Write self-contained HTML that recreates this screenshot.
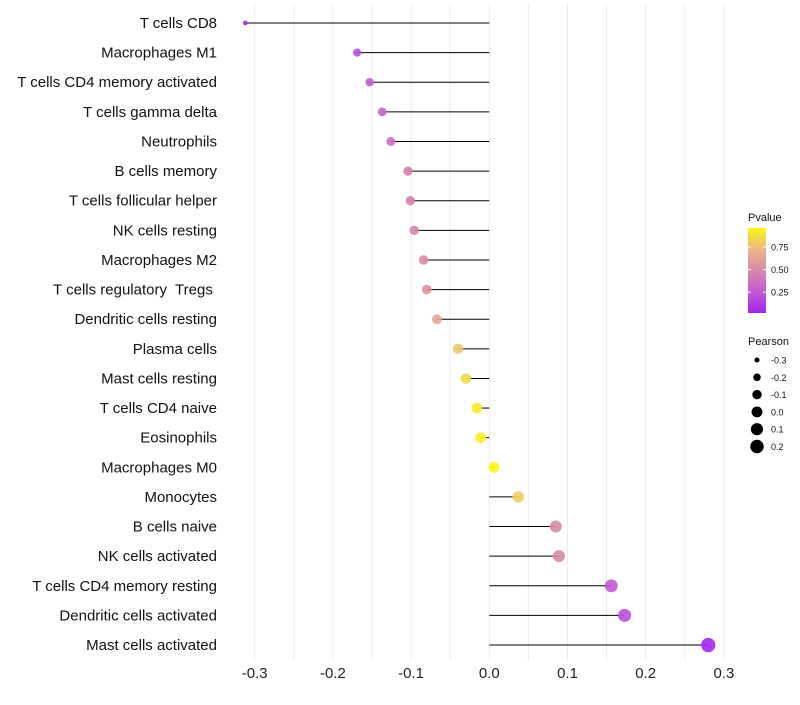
<!DOCTYPE html>
<html><head><meta charset="utf-8"><style>
body{margin:0;background:#fff;font-family:"Liberation Sans",sans-serif}
svg text{font-family:"Liberation Sans",sans-serif;white-space:pre}
</style></head><body>
<svg id="chart" width="800" height="700"></svg>
<script>
const categories=["T cells CD8","Macrophages M1","T cells CD4 memory activated","T cells gamma delta","Neutrophils","B cells memory","T cells follicular helper","NK cells resting","Macrophages M2","T cells regulatory  Tregs ","Dendritic cells resting","Plasma cells","Mast cells resting","T cells CD4 naive","Eosinophils","Macrophages M0","Monocytes","B cells naive","NK cells activated","T cells CD4 memory resting","Dendritic cells activated","Mast cells activated"];
const pearson=[-0.312,-0.169,-0.153,-0.137,-0.126,-0.104,-0.101,-0.096,-0.084,-0.080,-0.067,-0.040,-0.030,-0.016,-0.011,0.006,0.037,0.085,0.089,0.156,0.173,0.280];
const pvalue=[0.02,0.2,0.25,0.3,0.35,0.45,0.45,0.48,0.52,0.55,0.65,0.8,0.85,0.92,0.94,0.97,0.82,0.5,0.5,0.25,0.2,0.02];
const xTicks=[-0.3,-0.2,-0.1,0.0,0.1,0.2,0.3];
const xTickLabels=["-0.3","-0.2","-0.1","0.0","0.1","0.2","0.3"];
const pTicks=[0.25,0.5,0.75];
const pTickLabels=["0.25","0.50","0.75"];
const sizeKeys=[-0.3,-0.2,-0.1,0.0,0.1,0.2];
const sizeKeyLabels=["-0.3","-0.2","-0.1","0.0","0.1","0.2"];

const NS="http://www.w3.org/2000/svg";
const svg=document.getElementById('chart');
const x=v=>489.3+v*782;
const y=i=>23+i*29.62;
const r=v=>Math.sqrt(5+(v+0.32)/0.6*46);
const stops=[[0,[160,32,240]],[0.25,[194,90,214]],[0.5,[216,138,168]],[0.75,[238,187,128]],[1,[255,255,0]]];
function col(p){p=Math.max(0,Math.min(1,p));for(let k=0;k<stops.length-1;k++){const a=stops[k],b=stops[k+1];if(p<=b[0]){const t=(p-a[0])/(b[0]-a[0]);const c=a[1].map((v,j)=>Math.round(v+(b[1][j]-v)*t));return`rgb(${c})`;}}return'rgb(255,255,0)';}
function el(tag,attrs,parent){const e=document.createElementNS(NS,tag);for(const k in attrs)e.setAttribute(k,attrs[k]);(parent||svg).appendChild(e);return e;}

const grid=el('g',{});


for(let v=-0.3;v<=0.301;v+=0.05){el('line',{x1:x(v),x2:x(v),y1:5,y2:660,stroke:'#ebebeb','stroke-width':1},grid);}

const ticks=el('g',{});


xTicks.forEach((v,i)=>{const t=el('text',{x:x(v),y:678,'font-size':15,'text-anchor':'middle',fill:'#222'},ticks);t.textContent=xTickLabels[i];

});

categories.forEach((c,i)=>{
 const t=el('text',{x:217,y:y(i)+5,'font-size':15,'text-anchor':'end',fill:'#111'});
 t.textContent=c;
 
 
 const ln=el('line',{x1:x(0),x2:x(pearson[i]),y1:y(i),y2:y(i),stroke:'#000','stroke-width':1});
 
 
 const ci=el('circle',{cx:x(pearson[i]),cy:y(i),r:r(pearson[i]),fill:col(pvalue[i]),opacity:0.9});
 
 
});

const lg=el('g',{});


const lt=el('text',{x:748,y:221,'font-size':11,fill:'#111'},lg);lt.textContent='Pvalue';
const defs=el('defs',{});
const grad=el('linearGradient',{id:'pg',x1:0,y1:1,x2:0,y2:0},defs);
const pTop=228,pBot=313,p0=0.02,p1=0.96;
for(let k=0;k<=10;k++){const p=p0+(p1-p0)*k/10;el('stop',{offset:k/10,'stop-color':col(p)},grad);}
el('rect',{x:748,y:pTop,width:18,height:pBot-pTop,fill:'url(#pg)'},lg);
const py=p=>pBot-(p-p0)/(p1-p0)*(pBot-pTop);
pTicks.forEach((p,i)=>{el('line',{x1:748,x2:751,y1:py(p),y2:py(p),stroke:'#fff'},lg);el('line',{x1:763,x2:766,y1:py(p),y2:py(p),stroke:'#fff'},lg);
 const t=el('text',{x:771,y:py(p)+3.5,'font-size':9,fill:'#111'},lg);t.textContent=pTickLabels[i];});

const sg=el('g',{});


const st=el('text',{x:748,y:345,'font-size':11,fill:'#111'},sg);st.textContent='Pearson';
sizeKeys.forEach((v,i)=>{const cy=360+i*17.3;el('circle',{cx:757,cy:cy,r:r(v),fill:'#000'},sg);
 const t=el('text',{x:771,y:cy+3.5,'font-size':9,fill:'#111'},sg);t.textContent=sizeKeyLabels[i];});
</script>
</body></html>
